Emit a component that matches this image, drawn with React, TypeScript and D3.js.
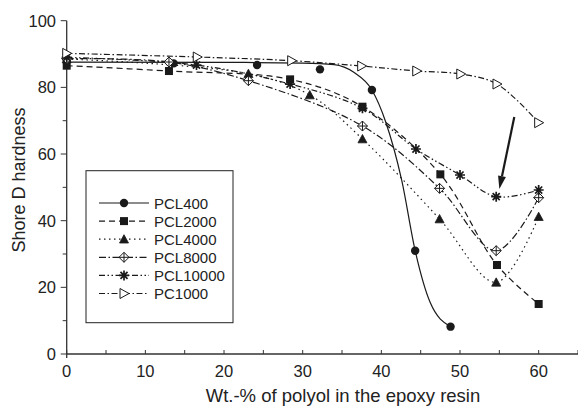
import React from 'react';
import * as d3 from 'd3';

// values
const pcl400X = [0, 13.6, 24.2, 32.2, 38.8, 44.3, 48.8];
const pcl400Y = [88.2, 87.2, 86.7, 85.4, 79.2, 31.0, 8.2];
// the solid PCL400 line is a fitted curve, not a point-to-point line
const pcl400FitX = [0, 20, 30, 34, 36.5, 38.8, 40.5, 42.6, 44.3, 46.2, 48.8];
const pcl400FitY = [87.6, 87.5, 87.3, 86.8, 84.5, 79.2, 70, 52, 31, 15.5, 8.2];

const pcl2000X = [0, 13.0, 28.4, 37.6, 47.5, 54.7, 60];
const pcl2000Y = [86.5, 84.9, 82.4, 74.2, 53.9, 26.7, 15.0];

const pcl4000X = [0, 23.1, 30.9, 37.6, 47.4, 54.6, 60];
const pcl4000Y = [88.5, 84.1, 77.7, 64.5, 40.5, 21.5, 41.2];

const pcl8000X = [0, 13.0, 23.1, 37.6, 47.4, 54.6, 60];
const pcl8000Y = [88.6, 87.6, 82.0, 68.4, 49.7, 31.0, 46.9];

const pcl10000X = [0, 16.5, 28.4, 37.6, 44.4, 50, 54.6, 60];
const pcl10000Y = [89.0, 86.7, 81.0, 73.7, 61.5, 53.7, 47.2, 49.2];

const pc1000X = [0, 16.6, 28.6, 37.5, 44.5, 50.1, 54.7, 60];
const pc1000Y = [90.2, 89.1, 88.0, 86.4, 84.9, 84.0, 81.0, 69.4];

const seriesNames = ['PCL400', 'PCL2000', 'PCL4000', 'PCL8000', 'PCL10000', 'PC1000'];
const xTicks = [0, 10, 20, 30, 40, 50, 60];
const yTicks = [0, 20, 40, 60, 80, 100];

// arrow annotation (data units): tail -> head
const arrowFrom = [56.9, 71.1];
const arrowTo = [55.0, 49.5];

const ink = '#1a1a1a';
const font = '"Liberation Sans", Arial, sans-serif';

const x = d3.scaleLinear().domain([0, 65]).range([66.7, 578]);
const y = d3.scaleLinear().domain([0, 100]).range([354, 20.7]);

const zip = (xs, ys) => xs.map((v, i) => [v, ys[i]]);

const series = [
  { name: seriesNames[0], pts: zip(pcl400X, pcl400Y), fit: zip(pcl400FitX, pcl400FitY), marker: 'circle', dash: null },
  { name: seriesNames[1], pts: zip(pcl2000X, pcl2000Y), marker: 'square', dash: '6,4' },
  { name: seriesNames[2], pts: zip(pcl4000X, pcl4000Y), marker: 'triangle', dash: '1.5,3.5' },
  { name: seriesNames[3], pts: zip(pcl8000X, pcl8000Y), marker: 'diamond', dash: '7,2.5,1.5,2.5' },
  { name: seriesNames[4], pts: zip(pcl10000X, pcl10000Y), marker: 'star', dash: '6,2.5,1.5,2.5,1.5,2.5' },
  { name: seriesNames[5], pts: zip(pc1000X, pc1000Y), marker: 'openTri', dash: '6,2.5,1.5,2.5' }
];

function Marker({ type, cx, cy }) {
  if (type === 'circle') return <circle cx={cx} cy={cy} r={4.2} fill={ink} />;
  if (type === 'square') return <rect x={cx - 4} y={cy - 4} width={8} height={8} fill={ink} />;
  if (type === 'triangle')
    return <path d={`M${cx},${cy - 4.5}L${cx + 4.5},${cy + 3.8}L${cx - 4.5},${cy + 3.8}Z`} fill={ink} stroke={ink} strokeWidth={0.8} />;
  if (type === 'diamond')
    return (
      <g stroke={ink} strokeWidth={1} fill="white">
        <path d={`M${cx},${cy - 5}L${cx + 5},${cy}L${cx},${cy + 5}L${cx - 5},${cy}Z`} />
        <path d={`M${cx},${cy - 5}V${cy + 5}M${cx - 5},${cy}H${cx + 5}`} />
      </g>
    );
  if (type === 'star') {
    const r = 5;
    const d = [0, 45, 90, 135].map(a => {
      const t = (a * Math.PI) / 180;
      return `M${cx - r * Math.cos(t)},${cy - r * Math.sin(t)}L${cx + r * Math.cos(t)},${cy + r * Math.sin(t)}`;
    }).join('');
    return <path d={d} stroke={ink} strokeWidth={1.7} />;
  }
  return <path d={`M${cx - 4},${cy - 5}L${cx + 5},${cy}L${cx - 4},${cy + 5}Z`} fill="white" stroke={ink} strokeWidth={1} />;
}

export default function App() {
  const smooth = d3.line().x(d => x(d[0])).y(d => y(d[1])).curve(d3.curveCatmullRom.alpha(0.5));
  const fitLine = d3.line().x(d => x(d[0])).y(d => y(d[1])).curve(d3.curveMonotoneX);

  const minorX = d3.range(0, 66, 5);
  const minorY = d3.range(0, 101, 10);

  const ax1 = x(arrowFrom[0]), ay1 = y(arrowFrom[1]);
  const ax2 = x(arrowTo[0]), ay2 = y(arrowTo[1]);
  const ang = Math.atan2(ay2 - ay1, ax2 - ax1);
  const hl = 13, hw = 4;
  const bx = ax2 - hl * Math.cos(ang), by = ay2 - hl * Math.sin(ang);
  const head = `M${ax2},${ay2}L${bx + hw * Math.sin(ang)},${by - hw * Math.cos(ang)}L${bx - hw * Math.sin(ang)},${by + hw * Math.cos(ang)}Z`;

  const legX = 86, legY = 170.7, legW = 147, legH = 152;
  const rowY = i => 203 + i * 18.1;

  return (
    <svg width={578} height={407} style={{ position: 'absolute', left: 0, top: 0, background: 'white' }} fontFamily={font}>
      {/* axes */}
      <line x1={x(0)} x2={578} y1={y(0)} y2={y(0)} stroke="#333" strokeWidth={1.3} />
      <line x1={x(0)} x2={x(0)} y1={y(100)} y2={y(0) + 4} stroke="#333" strokeWidth={1.3} />
      {minorX.map(v => (
        <line key={'mx' + v} x1={x(v)} x2={x(v)} y1={y(0)} y2={y(0) - 4} stroke="#333" strokeWidth={1} />
      ))}
      {minorY.map(v => (
        <line key={'my' + v} x1={x(0)} x2={x(0) - (v % 20 === 0 ? 6 : 4)} y1={y(v)} y2={y(v)} stroke="#333" strokeWidth={1} />
      ))}
      {xTicks.map(v => (
        <text key={'xt' + v} x={x(v)} y={377} textAnchor="middle" fontSize={16.5} fill="#222">{v}</text>
      ))}
      {yTicks.map(v => (
        <text key={'yt' + v} x={56} y={y(v) + 6} textAnchor="end" fontSize={16.5} fill="#222">{v}</text>
      ))}
      <text x={343} y={402} textAnchor="middle" fontSize={18.5} fill="#222">Wt.-% of polyol in the epoxy resin</text>
      <text transform="translate(25,180) rotate(-90)" textAnchor="middle" fontSize={18} fill="#222">Shore D hardness</text>

      {/* curves */}
      {series.map(s => (
        <path key={'l' + s.name} d={s.fit ? fitLine(s.fit) : smooth(s.pts)} fill="none" stroke={ink}
          strokeWidth={1.2} strokeDasharray={s.dash || undefined} />
      ))}
      {series.map(s => (
        <g key={'m' + s.name}>
          {s.pts.map((p, i) => <Marker key={i} type={s.marker} cx={x(p[0])} cy={y(p[1])} />)}
        </g>
      ))}

      {/* arrow */}
      <line x1={ax1} y1={ay1} x2={bx} y2={by} stroke={ink} strokeWidth={2.2} />
      <path d={head} fill={ink} />

      {/* legend */}
      <rect x={legX} y={legY} width={legW} height={legH} fill="white" stroke="#222" strokeWidth={1} />
      {series.map((s, i) => (
        <g key={'lg' + s.name}>
          <line x1={99} x2={149} y1={rowY(i)} y2={rowY(i)} stroke={ink} strokeWidth={1.2} strokeDasharray={s.dash || undefined} />
          <Marker type={s.marker} cx={124} cy={rowY(i)} />
          <text x={154} y={rowY(i) + 5.5} fontSize={15} fill="#222">{s.name}</text>
        </g>
      ))}
    </svg>
  );
}
